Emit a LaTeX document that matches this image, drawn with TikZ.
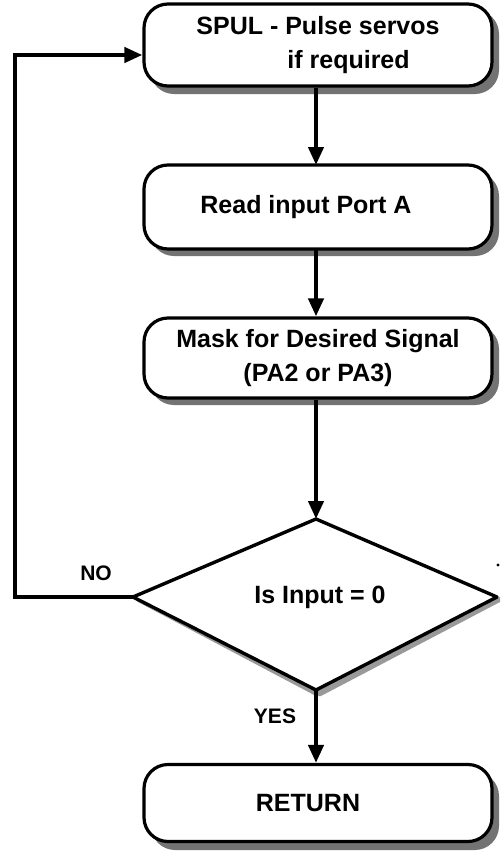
\documentclass[tikz,border=0pt]{standalone}
\usepackage{fontspec}
\setmainfont{Liberation Sans}
\usetikzlibrary{arrows.meta}
\begin{document}
\begin{tikzpicture}[x=1pt,y=-1pt,
  every node/.style={font=\fontsize{25}{34}\selectfont\bfseries},
  procbox/.style={draw=black, line width=3.2pt, fill=white, rounded corners=24pt,
    minimum width=348pt, minimum height=80pt, inner sep=0pt, align=center},
  shadowfill/.style={fill=black!55, draw=none},
  flow/.style={line width=4.2pt, -{Triangle[length=18pt,width=15pt]}},
  lbl/.style={inner sep=0pt}
]
\useasboundingbox (0,0) rectangle (502,857);

% drop shadows
\fill[shadowfill, rounded corners=24pt] (150,10) rectangle (499,94);
\fill[shadowfill, rounded corners=24pt] (150,172) rectangle (499,256);
\fill[shadowfill, rounded corners=24pt] (150,325) rectangle (499,405);
\fill[shadowfill, rounded corners=24pt] (151,772) rectangle (499,850);
\fill[black!40] (138,602) -- (316,696) -- (321,696) -- (500,602) -- (500,597) -- (316,690) -- (133,597) -- cycle;

% process boxes
\node[procbox, minimum height=82pt] (spul) at (318,45)
  {\begin{tabular}{@{}l@{}}SPUL - Pulse servos\\\hspace*{91pt}if required\end{tabular}};
\node[procbox, minimum height=84pt] (read) at (318,207) {\hspace*{-24pt}Read input Port A};
\node[procbox] (mask) at (318,358) {Mask for Desired Signal\\(PA2 or PA3)};
\node[procbox, minimum height=77pt] (ret) at (318,803) {\hspace*{-20pt}RETURN};

% decision
\coordinate (dt) at (316,519);
\coordinate (dl) at (133,597);
\coordinate (dr) at (497,597);
\coordinate (db) at (316,690);
\draw[line width=3.4pt, fill=white, line join=round] (dt) -- (dr) -- (db) -- (dl) -- cycle;
\node[lbl] (test) at (320,597) {Is Input = 0};

% connectors
\draw[flow] (spul.south -| 316,0) -- (316,165);
\draw[flow] (316,249) -- (mask.north -| 316,0);
\draw[flow] (mask.south -| 316,0) -- (dt);
\draw[flow] (db) -- (ret.north -| 316,0);
\coordinate (loopbl) at (15,597);
\coordinate (looptl) at (15,55);
\draw[flow, line join=miter] (dl) -- (loopbl) -- (looptl) -- (spul.west |- 0,55);

% branch labels
\node[lbl] (no) at (96,573) {\fontsize{21}{24}\selectfont NO};
\node[lbl] (yes) at (275,716) {\fontsize{21}{24}\selectfont YES};
\fill (498,565) circle (1.6pt);
\end{tikzpicture}
\end{document}
